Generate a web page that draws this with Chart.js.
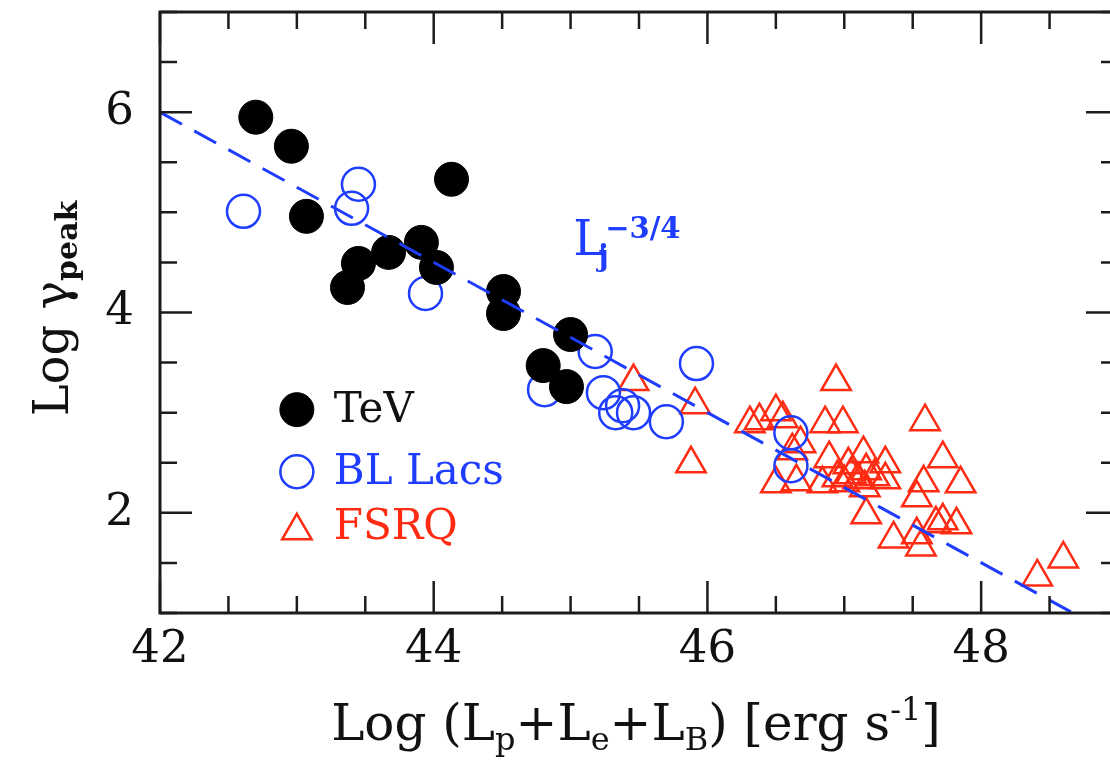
<!DOCTYPE html>
<html>
<head>
<meta charset="utf-8">
<script src="https://cdn.jsdelivr.net/npm/chart.js@4.4.0/dist/chart.umd.min.js"></script>
<style>
  html, body { margin: 0; padding: 0; background: #fff; overflow: hidden; width: 1110px; height: 763px; }
  #wrap { position: absolute; left: 0; top: 0; width: 1130px; height: 763px; }
</style>
</head>
<body>
<div id="wrap"><canvas id="c"></canvas></div>
<script>
// TeV-detected sources
const tevX = [42.70, 42.96, 43.07, 43.37, 43.45, 43.67, 43.91, 44.02, 44.13, 44.51, 44.51, 44.80, 44.97, 45.00];
const tevY = [5.95, 5.66, 4.96, 4.25, 4.49, 4.60, 4.70, 4.45, 5.33, 4.21, 3.99, 3.47, 3.26, 3.78];

// BL Lac objects
const blX = [42.61, 43.45, 43.40, 43.94, 44.81, 45.18, 45.24, 45.33, 45.38, 45.46, 45.70, 45.92, 46.61, 46.61];
const blY = [5.01, 5.28, 5.04, 4.19, 3.23, 3.61, 3.20, 3.00, 3.07, 3.00, 2.91, 3.49, 2.80, 2.47];

// Flat-spectrum radio quasars
const fsrqX = [45.46, 45.91, 45.88, 46.31, 46.38, 46.50, 46.55, 46.94, 46.86, 46.99, 47.59, 46.68, 46.62,
               46.50, 46.65, 46.84, 46.89, 47.03, 47.05, 47.14, 47.16, 47.15, 47.30, 47.30, 46.95, 47.10,
               47.16, 47.36, 47.53, 47.58, 47.72, 47.85, 47.53, 47.56, 47.67, 47.72, 47.82, 48.41, 48.60,
               47.22, 47.00];
const fsrqY = [3.31, 3.08, 2.49, 2.89, 2.92, 3.01, 2.94, 3.31, 2.89, 2.89, 2.91, 2.69, 2.62,
               2.29, 2.31, 2.29, 2.54, 2.48, 2.38, 2.59, 2.42, 2.25, 2.49, 2.33, 2.35, 2.33,
               1.98, 1.74, 2.15, 2.30, 2.54, 2.29, 1.78, 1.66, 1.89, 1.92, 1.88, 1.36, 1.54,
               2.36, 2.30];

// L_j^(-3/4) relation, end points
const relX = [42.0, 48.67];
const relY = [6.0, 1.0];

// axis ranges and ticks
const xRange = [42, 49];
const yRange = [1, 7];
const xMajor = [42, 44, 46, 48];
const yMajor = [2, 4, 6];
const minorStep = 0.5;

const seriesNames = ['TeV', 'BL Lacs', 'FSRQ'];
const BLUE = '#1f3dff';
const RED = '#ff2b12';
const INK = '#111111';
const SERIF = '"DejaVu Serif", serif';

const zip = (xs, ys) => xs.map((v, i) => ({ x: v, y: ys[i] }));

// a row of text runs (base / sub / sup); a run with keep:true does not advance x
function runsWidth(ctx, runs) {
  let w = 0, hold = 0;
  runs.forEach(r => {
    ctx.font = r.font;
    const m = ctx.measureText(r.t).width + (r.dx || 0);
    if (r.keep) { hold = m; } else { w += Math.max(m, hold); hold = 0; }
  });
  return w + hold;
}
function drawRuns(ctx, runs, x, y) {
  let cx = x, hold = 0;
  runs.forEach(r => {
    ctx.font = r.font;
    ctx.fillStyle = r.color;
    ctx.fillText(r.t, cx + (r.dx || 0), y + (r.dy || 0));
    const m = ctx.measureText(r.t).width + (r.dx || 0);
    if (r.keep) { hold = m; } else { cx += Math.max(m, hold); hold = 0; }
  });
}

const decorPlugin = {
  id: 'decor',
  afterDatasetsDraw(chart) {
    const { ctx, chartArea: a, scales: { x, y } } = chart;
    ctx.save();
    // tick marks on all four sides, pointing inward
    ctx.strokeStyle = '#1c1c1c';
    ctx.lineWidth = 2.5;
    ctx.beginPath();
    for (let v = xRange[0]; v <= xRange[1] + 1e-9; v += minorStep) {
      const px = x.getPixelForValue(v);
      const len = xMajor.some(m => Math.abs(m - v) < 1e-9) ? 32 : 17;
      ctx.moveTo(px, a.bottom); ctx.lineTo(px, a.bottom - len);
      ctx.moveTo(px, a.top); ctx.lineTo(px, a.top + len);
    }
    for (let v = yRange[0]; v <= yRange[1] + 1e-9; v += minorStep) {
      const py = y.getPixelForValue(v);
      const len = yMajor.some(m => Math.abs(m - v) < 1e-9) ? 32 : 17;
      ctx.moveTo(a.left, py); ctx.lineTo(a.left + len, py);
      ctx.moveTo(a.right, py); ctx.lineTo(a.right - len, py);
    }
    ctx.stroke();
    // frame
    ctx.lineWidth = 3;
    ctx.strokeRect(a.left, a.top, a.right - a.left, a.bottom - a.top);
    ctx.restore();
  },
  afterDraw(chart) {
    const { ctx, chartArea: a, scales: { x, y } } = chart;
    ctx.save();
    ctx.textBaseline = 'alphabetic';
    ctx.textAlign = 'left';

    // x-axis title
    const big = '50px ' + SERIF, small = '32px ' + SERIF;
    const xt = [
      { t: 'Log (L', font: big, color: INK },
      { t: 'p', font: small, color: INK, dy: 10 },
      { t: '+L', font: big, color: INK },
      { t: 'e', font: small, color: INK, dy: 10 },
      { t: '+L', font: big, color: INK },
      { t: 'B', font: small, color: INK, dy: 10 },
      { t: ') [erg s', font: big, color: INK },
      { t: '-1', font: small, color: INK, dy: -20 },
      { t: ']', font: big, color: INK }
    ];
    const xw = runsWidth(ctx, xt);
    drawRuns(ctx, xt, 636 - xw / 2, 740);

    // y-axis title (rotated)
    const yt = [
      { t: 'Log \u03b3', font: '48px ' + SERIF, color: INK },
      { t: 'peak', font: 'bold 30px ' + SERIF, color: INK, dy: 9 }
    ];
    const yw = runsWidth(ctx, yt);
    ctx.save();
    ctx.translate(68, (a.top + a.bottom) / 2 - 4);
    ctx.rotate(-Math.PI / 2);
    drawRuns(ctx, yt, -yw / 2, 0);
    ctx.restore();

    // relation label
    const lt = [
      { t: 'L', font: '48px ' + SERIF, color: BLUE },
      { t: 'j', font: 'bold 29px ' + SERIF, color: BLUE, dx: -7, dy: 11, keep: true },
      { t: '\u22123/4', font: 'bold 29px ' + SERIF, color: BLUE, dy: -17 }
    ];
    drawRuns(ctx, lt, x.getPixelForValue(45.02), y.getPixelForValue(4.575));

    // legend
    const ds = chart.data.datasets;
    const legendRows = [3.03, 2.41, 1.86];
    const textColors = [INK, BLUE, RED];
    for (let i = 0; i < 3; i++) {
      const d = ds[i + 1];
      const px = x.getPixelForValue(43.0);
      const py = y.getPixelForValue(legendRows[i]);
      ctx.fillStyle = d.backgroundColor;
      ctx.strokeStyle = d.borderColor;
      ctx.lineWidth = d.borderWidth;
      Chart.helpers.drawPoint(ctx, {
        pointStyle: d.pointStyle, rotation: 0, radius: d.pointRadius, borderWidth: d.borderWidth
      }, px, py + (d.pointStyle === 'triangle' ? 4 : 0));
      ctx.fillStyle = textColors[i];
      ctx.font = '42px ' + SERIF;
      ctx.textBaseline = 'middle';
      ctx.fillText(seriesNames[i], x.getPixelForValue(43.27), py + 1);
      ctx.textBaseline = 'alphabetic';
    }
    ctx.restore();
  }
};

const fitScale = (w, h) => s => {
  if (w !== null) s.width = w;
  if (h !== null) s.height = h;
  s.paddingTop = 0; s.paddingBottom = 0; s.paddingLeft = 0; s.paddingRight = 0;
};

new Chart(document.getElementById('c'), {
  type: 'scatter',
  data: {
    datasets: [
      {
        type: 'line',
        label: 'L_j^-3/4',
        data: zip(relX, relY),
        borderColor: BLUE,
        borderWidth: 3,
        borderDash: [25, 14],
        pointRadius: 0,
        fill: false,
        order: 0
      },
      {
        label: seriesNames[0],
        data: zip(tevX, tevY),
        pointStyle: 'circle',
        pointRadius: 17,
        backgroundColor: '#000000',
        borderColor: '#000000',
        borderWidth: 1,
        order: 1
      },
      {
        label: seriesNames[1],
        data: zip(blX, blY),
        pointStyle: 'circle',
        pointRadius: 16.5,
        backgroundColor: 'rgba(0,0,0,0)',
        borderColor: BLUE,
        borderWidth: 2.5,
        order: 2
      },
      {
        label: seriesNames[2],
        data: zip(fsrqX, fsrqY),
        pointStyle: 'triangle',
        pointRadius: 17,
        backgroundColor: 'rgba(0,0,0,0)',
        borderColor: RED,
        borderWidth: 2.5,
        order: 3
      }
    ]
  },
  options: {
    responsive: true,
    maintainAspectRatio: false,
    animation: false,
    events: [],
    layout: { autoPadding: false, padding: { left: 0, top: 12, right: 12, bottom: 0 } },
    plugins: { legend: { display: false }, tooltip: { enabled: false } },
    scales: {
      x: {
        type: 'linear',
        min: xRange[0], max: xRange[1],
        afterBuildTicks: s => { s.ticks = xMajor.map(v => ({ value: v })); },
        afterFit: fitScale(null, 150),
        grid: { display: false, drawTicks: false },
        border: { display: false },
        ticks: { font: { family: SERIF, size: 45 }, color: INK, padding: 10, maxRotation: 0, autoSkip: false }
      },
      y: {
        type: 'linear',
        min: yRange[0], max: yRange[1],
        afterBuildTicks: s => { s.ticks = yMajor.map(v => ({ value: v })); },
        afterFit: fitScale(160, null),
        grid: { display: false, drawTicks: false },
        border: { display: false },
        ticks: { font: { family: SERIF, size: 45 }, color: INK, padding: 26, autoSkip: false }
      }
    }
  },
  plugins: [decorPlugin]
});
</script>
</body>
</html>
